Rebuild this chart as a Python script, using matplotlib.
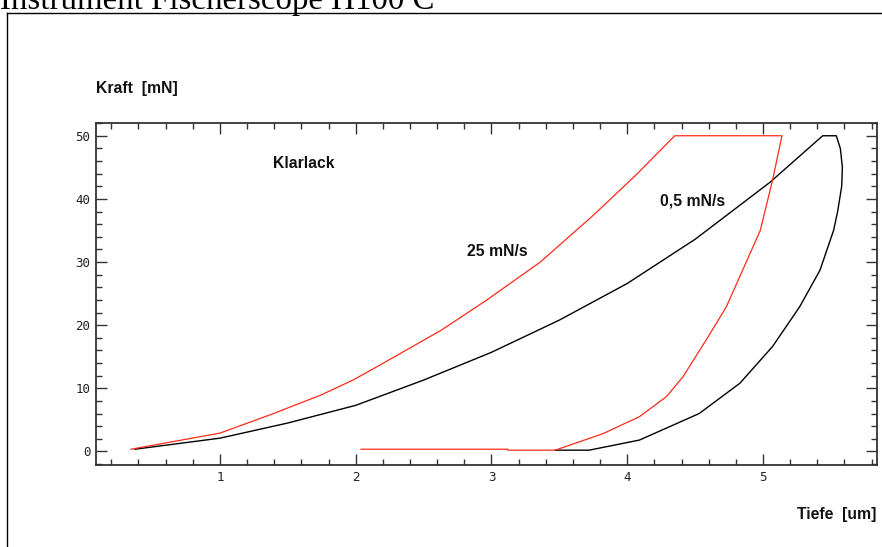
import numpy as np
import matplotlib
matplotlib.use("Agg")
import matplotlib.pyplot as plt
from matplotlib.ticker import MultipleLocator
from matplotlib.lines import Line2D

# 25 mN/s Messung (rot): Belastung, Haltezeit, Entlastung
red_x = [0.345, 1.0, 1.37, 1.74, 1.98, 2.18, 2.63, 2.96, 3.36, 3.75, 4.07, 4.35,
         5.14, 5.07, 4.98, 4.85, 4.73, 4.58, 4.41, 4.29, 4.09, 3.82, 3.47,
         3.12, 3.12, 2.04]
red_y = [0.35, 2.9, 5.8, 8.9, 11.3, 13.7, 19.2, 23.9, 30.0, 37.4, 43.9, 50.0,
         50.0, 42.9, 35.0, 28.7, 22.9, 17.6, 11.8, 8.7, 5.5, 2.8, 0.2,
         0.2, 0.35, 0.35]

# 0,5 mN/s Messung (schwarz)
black_x = [0.374, 1.0, 1.5, 2.0, 2.5, 3.0, 3.5, 4.0, 4.5, 5.05, 5.44,
           5.54, 5.57, 5.585, 5.58, 5.55, 5.52, 5.42, 5.27, 5.07, 4.83, 4.53,
           4.09, 3.72, 3.47]
black_y = [0.35, 2.1, 4.5, 7.3, 11.3, 15.7, 20.8, 26.6, 33.6, 42.6, 50.0,
           50.0, 48.0, 45.0, 42.0, 38.0, 35.0, 28.7, 22.9, 16.6, 10.8, 6.0,
           1.8, 0.2, 0.2]

x_ticks = [1, 2, 3, 4, 5]
y_ticks = [0, 10, 20, 30, 40, 50]

W, H = 882, 547
fig = plt.figure(figsize=(W / 100, H / 100), dpi=100)

# Rahmen der eingefügten Grafik
fig.add_artist(Line2D([7 / W, 7 / W], [0, 1 - 12.5 / H], transform=fig.transFigure,
                      color="black", lw=1.0))
fig.add_artist(Line2D([7 / W, 1], [1 - 12.5 / H, 1 - 12.5 / H], transform=fig.transFigure,
                      color="black", lw=1.0))
fig.text(0 / W, 1 - 9.5 / H, "Instrument Fischerscope H100 C", family="Liberation Serif",
         fontsize=23.7, ha="left", va="baseline")

ax = fig.add_axes([96 / W, 1 - 465 / H, (877 - 96) / W, (465 - 122.5) / H])
ax.plot(black_x, black_y, color="black", lw=1.0)
ax.plot(red_x, red_y, color="#ff2a1a", lw=0.9)

ax.set_xlim(0.087, 5.84)
ax.set_ylim(-2.15, 52.1)
ax.set_xticks(x_ticks)
ax.set_yticks(y_ticks)
ax.xaxis.set_minor_locator(MultipleLocator(0.2))
ax.yaxis.set_minor_locator(MultipleLocator(2))
ax.tick_params(which="both", direction="in", top=True, right=True, color="#333333",
               labelsize=9, labelcolor="#222222")
ax.tick_params(which="major", length=8, width=1.0, pad=4)
ax.tick_params(which="minor", length=4, width=1.0)
for lab in ax.get_xticklabels() + ax.get_yticklabels():
    lab.set_family("DejaVu Sans Mono")
for s in ax.spines.values():
    s.set_color("#333333")
    s.set_linewidth(1.3)

lbl = dict(family="Liberation Sans", fontweight="bold", fontsize=11.3, color="#111111")
ax.text(1.39, 45.6, "Klarlack", va="center", ha="left", **lbl)
ax.text(2.82, 31.7, "25 mN/s", va="center", ha="left", **lbl)
ax.text(4.24, 39.6, "0,5 mN/s", va="center", ha="left", **lbl)

fig.text(96 / W, 1 - 88 / H, "Kraft  [mN]", va="center", ha="left", **lbl)
fig.text(876 / W, 1 - 514 / H, "Tiefe  [um]", va="center", ha="right", **lbl)

fig.savefig("out.png", dpi=100)
